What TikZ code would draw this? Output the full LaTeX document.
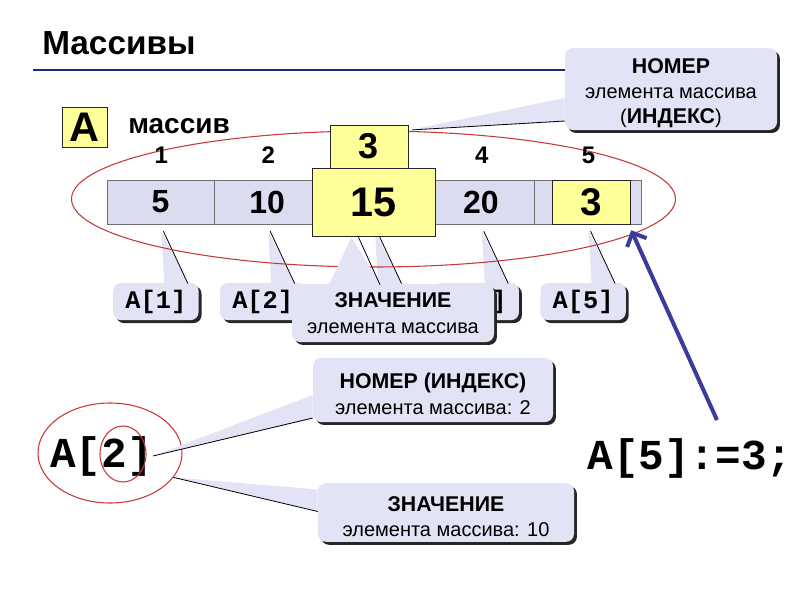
\documentclass[tikz,border=0pt]{standalone}
\usepackage{fontspec}
\setmainfont{Liberation Sans}
\setmonofont{Liberation Mono}
\usepackage{tikz}
\usetikzlibrary{calc,shadows,shapes.geometric,arrows.meta}
\definecolor{cellfill}{HTML}{DCDCF1}
\definecolor{cellline}{HTML}{707070}
\definecolor{yel}{HTML}{FFFF99}
\definecolor{callfill}{HTML}{E3E3F6}
\definecolor{ringred}{HTML}{C83838}
\definecolor{navy}{HTML}{1E2878}
\definecolor{arrowblue}{HTML}{3B3B9C}
\newcommand{\hd}[1]{{\bfseries\fontsize{16}{19}\selectfont #1}}
\newcommand{\tp}{\rule{0pt}{17.5pt}}
\tikzset{
  cell/.style={draw=cellline, fill=cellfill, minimum width=80.1pt, minimum height=33pt, inner sep=0pt, font=\bfseries\fontsize{24}{24}\selectfont},
  ybox/.style={draw=black!85, fill=yel, inner sep=0pt},
  callout/.style={fill=callfill, rounded corners=6pt, inner sep=0pt, align=center, font=\fontsize{15}{19}\selectfont,
    general shadow={fill=black!85, shadow xshift=2.2pt, shadow yshift=-2.2pt}},
  abox/.style={callout, minimum width=64pt, minimum height=28pt, font=\ttfamily\bfseries\fontsize{19}{19}\selectfont},
  tail/.style={fill=callfill},
  pin/.style={draw=black, line width=0.6pt},
  ring/.style={draw=ringred, line width=0.8pt},
  idx/.style={font=\bfseries\fontsize{18}{18}\selectfont},
  code/.style={font=\ttfamily\bfseries\fontsize{32}{32}\selectfont, inner sep=0pt}
}

\begin{document}
\begin{tikzpicture}[x=0.75pt, y=-0.75pt]
  \useasboundingbox (0,0) rectangle (800,600);
  % heading
  \node[anchor=west, inner sep=0pt, font=\bfseries\fontsize{25}{25}\selectfont] (title) at (42,43) {Массивы};
  \draw[navy, line width=2.2pt] (33,70) -- (570,70);

  % array A
  \node[ybox, minimum width=34pt, minimum height=30pt, font=\bfseries\fontsize{31}{31}\selectfont] (name) at (84.5,127) {A};
  \node[anchor=west, inner sep=0pt, font=\bfseries\fontsize{21}{21}\selectfont] (word) at (128,126) {массив};
  \foreach \v [count=\k] in {5,10,{},20,{}}
    \node[cell] (c\k) at (53.6+106.8*\k,202) {\v};

  \foreach \t [count=\k] in {A[1],A[2],{},A[4],A[5]} {
    \node[abox] (a\k) at ($(c\k)+(-4.5,99.5)$) {\t};
    \fill[tail] ($(c\k.south)+(1,7)$) -- ($(a\k.north)+(8.5,1)$) -- ($(a\k.north)+(32.5,1)$) -- cycle;
    \draw[pin] ($(c\k.south)+(3,7)$) -- ($(a\k.north)+(32,1)$);
  }

  \draw[ring] (373.5,199) ellipse (302 and 68);
  \foreach \k in {1,2,4,5}
    \node[idx] (n\k) at ($(c\k)+(1,-47)$) {\k};

  % element 3
  \node[ybox, minimum width=58.5pt, minimum height=32pt, font=\bfseries\fontsize{27}{27}\selectfont] (top3) at (369,146.5) {3};
  \node[ybox, minimum width=92pt, minimum height=51pt, font=\bfseries\fontsize{31}{31}\selectfont] (v15) at (373.5,202) {15};
  \node[ybox, minimum width=58.5pt, minimum height=33pt, font=\bfseries\fontsize{29}{29}\selectfont] (v5) at (591,202) {3};

  % callouts
  \node[callout, minimum width=151.5pt, minimum height=43.5pt] (val) at (393,313) {\hd{ЗНАЧЕНИЕ}\\элемента массива};
  \fill[tail] ($(v15.south)+(-22,1)$) -- ($(val.north)+(-64,1)$) -- ($(val.north)+(-12,1)$) -- cycle;
  \draw[pin] ($(v15.south)+(-15,1)$) -- ($(val.north)+(-13,1)$);

  \node[callout, minimum width=159pt, minimum height=61.5pt] (num) at (671,89) {\tp\hd{НОМЕР}\\элемента массива\\(\hd{ИНДЕКС})};
  \fill[tail] ($(top3.north east)+(2,5)$) -- ($(num.west)+(0,9)$) -- ($(num.west)+(0,33)$) -- cycle;
  \draw[pin] ($(top3.north east)+(4,5)$) -- ($(num.west)+(0,32)$);

  % A[2]
  \node[callout, minimum width=180pt, minimum height=48pt] (idx2) at (433,390) {\tp\hd{НОМЕР (ИНДЕКС)}\\элемента массива: 2};
  \node[callout, minimum width=192pt, minimum height=44pt] (val2) at (446,512.5) {\tp\hd{ЗНАЧЕНИЕ}\\элемента массива: 10};
  \node[code] (expr) at (101.5,456) {A[2]};
  \node[ring, ellipse, inner sep=0pt, minimum width=108pt, minimum height=75pt] (ring) at (110,453) {};
  \node[ring, ellipse, inner sep=0pt, minimum width=34.5pt, minimum height=42pt] (ring2) at (123,454) {};
  \fill[tail] (expr.east) -- ($(idx2.west)+(0,5)$) -- ($(idx2.west)+(0,29)$) -- cycle;
  \draw[pin] (expr.east) -- ($(idx2.west)+(0,28)$);
  \fill[tail] (ring.-21) -- ($(val2.west)+(0,-23)$) -- ($(val2.west)+(0,-1)$) -- cycle;
  \draw[pin] (ring.-21) -- ($(val2.west)+(0,-1)$);

  % assignment
  \node[code] (assign) at (690,458) {A[5]:=3;};
  \draw[arrowblue, line width=3pt, -{Straight Barb[length=8pt, width=16pt]}] ($(assign)+(27,-38)$) -- ($(c5.south east)+(-10,6)$);
\end{tikzpicture}
\end{document}
